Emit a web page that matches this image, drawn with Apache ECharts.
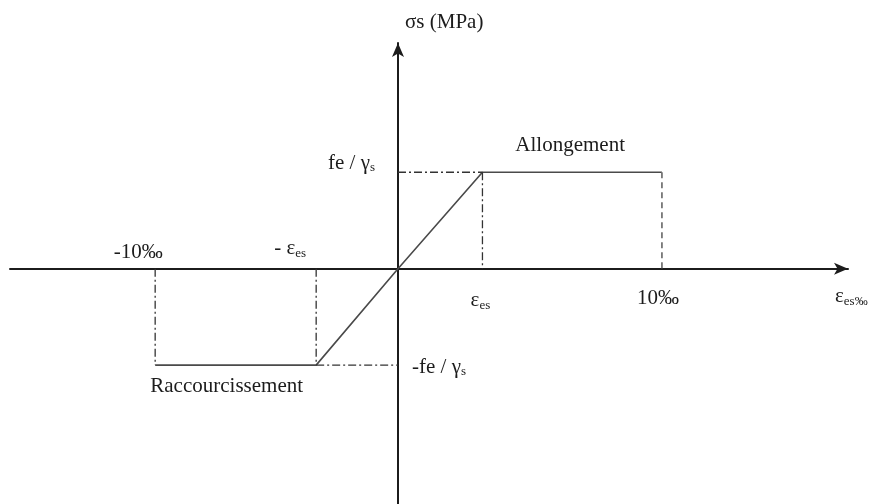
<!DOCTYPE html>
<html>
<head>
<meta charset="utf-8">
<style>
  html, body { margin: 0; padding: 0; background: #fff; }
  #chart { width: 879px; height: 504px; }
</style>
<script src="https://cdn.jsdelivr.net/npm/echarts@6/dist/echarts.min.js"></script>
</head>
<body>
<div id="chart"></div>
<script>
// Steel stress-strain diagram (schematic). x in ‰ as drawn, y in units of fe/γs.
const strainPts = [-9.2, -3.1, 0, 3.2, 10];
const stressPts = [-1, -1, 0, 1, 1];
const xRange = [-14.7, 17.05];
const yRange = [-2.44, 2.34];

const ink = "#1c1c1c";
const serif = "'Liberation Serif', 'Times New Roman', serif";

function seg(a, b, style) {
    return {
        type: "line", data: [a, b], symbol: "none", silent: true,
        lineStyle: Object.assign({ color: "#333", width: 1.3 }, style)
    };
}

const dashDot = [8, 3, 2, 3];
const [xN, xNe, x0, xEe, xP] = strainPts;
const [yN, , , yP] = stressPts;

const chart = echarts.init(document.getElementById("chart"), null, { renderer: "canvas" });

const axisBase = {
    type: "value",
    axisLine: { onZero: true, symbol: ["none", "arrow"], symbolSize: [9, 14], symbolOffset: [0, 0], lineStyle: { color: ink, width: 2 } },
    axisTick: { show: false }, axisLabel: { show: false }, splitLine: { show: false }
};

chart.setOption({
    animation: false,
    backgroundColor: "#fff",
    grid: { left: 10, right: 31, top: 43, bottom: 0 },
    xAxis: Object.assign({ min: xRange[0], max: xRange[1] }, axisBase),
    yAxis: Object.assign({ min: yRange[0], max: yRange[1] }, axisBase),
    series: [
        {
            type: "line", symbol: "none", silent: true,
            data: strainPts.map((x, i) => [x, stressPts[i]]),
            lineStyle: { color: "#4a4a4a", width: 1.6 }
        },
        seg([x0, yP], [xEe, yP], { type: dashDot }),
        seg([xEe, yP], [xEe, 0], { type: dashDot }),
        seg([xP, yP], [xP, 0], { type: [6, 4], color: "#777", width: 1.8 }),
        seg([xN, 0], [xN, yN], { type: dashDot }),
        seg([xNe, 0], [xNe, yN], { type: dashDot }),
        seg([xNe, yN], [x0, yN], { type: dashDot })
    ]
});

// text annotations anchored on data points
const rich = {
    sub: { fontSize: 13, fontFamily: serif, fill: ink, padding: [9, 0, 0, 0] },
    big: { fontSize: 21, fontFamily: serif, fill: ink }
};
function label(anchor, dx, dy, text, align) {
    const p = chart.convertToPixel({ gridIndex: 0 }, anchor);
    return {
        type: "text", x: p[0] + dx, y: p[1] + dy, silent: true,
        style: {
            text: text, rich: rich, fontSize: 21, fontFamily: serif, fill: ink,
            align: align || "center", verticalAlign: "middle"
        }
    };
}

chart.setOption({
    graphic: [
        label([x0, yRange[1]], 7, -21, "σs (MPa)", "left"),
        label([x0, yP], -23, -9, "{big|fe / γ}{sub|s}", "right"),
        label([(xEe + xP) / 2, yP], -2, -27, "Allongement"),
        label([xN, 0], -17, -16, "-10‰"),
        label([xNe, 0], -26, -20, "{big|- ε}{sub|es}"),
        label([(xN + xNe) / 2, yN], -9, 21, "Raccourcissement"),
        label([x0, yN], 14, 2, "{big|-fe / γ}{sub|s}", "left"),
        label([xEe, 0], -2, 32, "{big|ε}{sub|es}"),
        label([xP, 0], -4, 30, "10‰"),
        label([xRange[1], 0], -13, 28, "{big|ε}{sub|es‰}", "left")
    ]
});

window.addEventListener("resize", () => chart.resize());
</script>
</body>
</html>
